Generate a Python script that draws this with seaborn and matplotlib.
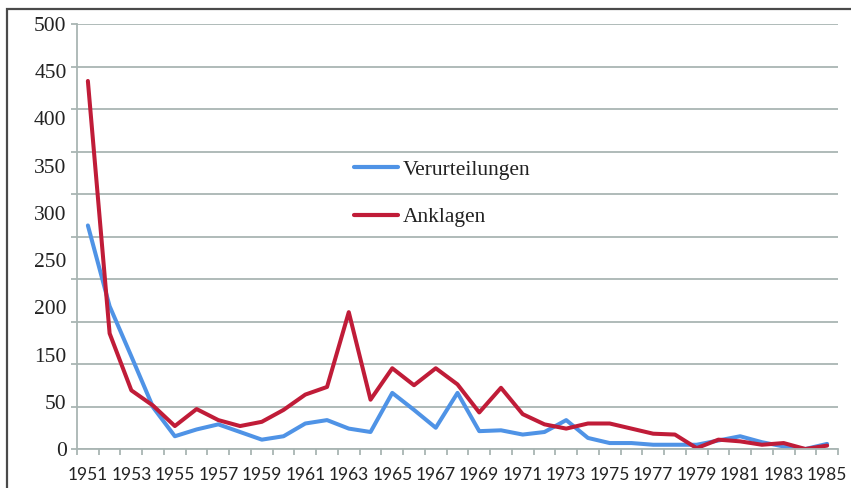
import numpy as np
import pandas as pd
import matplotlib
matplotlib.use("Agg")
import matplotlib.pyplot as plt
from matplotlib.patches import Rectangle
import seaborn as sns

years = list(range(1951, 1986))
verurteilungen = [263, 168, 109, 49, 15, 23, 29, 20, 11, 15,
                  30, 34, 24, 20, 66, 46, 25, 66, 21, 22,
                  17, 20, 34, 13, 7, 7, 5, 5, 5, 10,
                  15, 8, 3, 0, 6]
anklagen = [433, 136, 69, 51, 27, 47, 34, 27, 32, 46,
            64, 73, 161, 58, 95, 75, 95, 76, 43, 72,
            41, 29, 24, 30, 30, 24, 18, 17, 1, 11,
            9, 5, 7, 0, 4]
# the printed y labels (100 is missing in the original)
y_labels = ["500", "450", "400", "350", "300", "250", "200", "150", "50", "0"]
x_labels = [str(y) for y in years[::2]]

df = pd.DataFrame({
    "Jahr": years * 2,
    "Anzahl": verurteilungen + anklagen,
    "Serie": ["Verurteilungen"] * len(years) + ["Anklagen"] * len(years),
})

sns.set_style("white")
plt.rcParams["font.family"] = ["Liberation Serif", "DejaVu Serif"]

grid_col = "#a9b5b3"
text_col = "#222222"

fig = plt.figure(figsize=(8.51, 4.88), dpi=100)
ax = fig.add_axes([77 / 851, 1 - 449 / 488, (838 - 77) / 851, (449 - 24) / 488])

sns.lineplot(data=df, x="Jahr", y="Anzahl", hue="Serie",
             hue_order=["Verurteilungen", "Anklagen"],
             palette={"Verurteilungen": "#4f93e6", "Anklagen": "#c01c38"},
             linewidth=2.9, ax=ax)

ax.set_xlim(1950.5, 1985.5)
ax.set_ylim(0, 500)
ax.yaxis.remove_overlapping_locs = False

# y gridlines / ticks
ax.set_yticks(np.arange(0, 501, 50))
ax.set_yticklabels([])
ax.yaxis.grid(True, color=grid_col, linewidth=1.3)
ax.xaxis.grid(False)
ax.tick_params(axis="y", which="major", length=4, width=1.3, color=grid_col, direction="out", left=True)
ax.set_yticks(np.linspace(500, 0, len(y_labels)), minor=True)
ax.set_yticklabels(y_labels, minor=True)
ax.tick_params(axis="y", which="minor", length=0, pad=7.5, labelsize=15.5, labelcolor=text_col)

# x ticks at category boundaries, labels on odd years
ax.set_xticks(np.arange(1950.5, 1986, 1))
ax.set_xticklabels([])
ax.tick_params(axis="x", which="major", length=4, width=1.3, color=grid_col, direction="out", bottom=True)
ax.set_xticks(years[::2], minor=True)
ax.set_xticklabels(x_labels, minor=True, family="Lato")
ax.tick_params(axis="x", which="minor", length=0, pad=13, labelsize=12.5, labelcolor=text_col)

for s in ["top", "right"]:
    ax.spines[s].set_visible(False)
ax.spines["left"].set_color(grid_col)
ax.spines["left"].set_linewidth(1.3)
ax.spines["bottom"].set_color(grid_col)
ax.spines["bottom"].set_linewidth(1.3)
ax.set_xlabel("")
ax.set_ylabel("")

leg = ax.legend(frameon=False, loc="center left",
                bbox_to_anchor=(354 / 851, 1 - 193.5 / 488), bbox_transform=fig.transFigure,
                fontsize=15.5, handlelength=2.05, handletextpad=0.2,
                labelspacing=1.28, borderpad=0, borderaxespad=0)
for t in leg.get_texts():
    t.set_color(text_col)
for h in leg.get_lines():
    h.set_linewidth(3)

# outer frame (only left and top edges visible)
fig.add_artist(Rectangle((7 / 851, -0.2), 1.2, 1.2 - 9 / 488, transform=fig.transFigure,
                         fill=False, edgecolor="#4a4a4a", linewidth=1.6, clip_on=False))

fig.savefig("out.png", dpi=100)
